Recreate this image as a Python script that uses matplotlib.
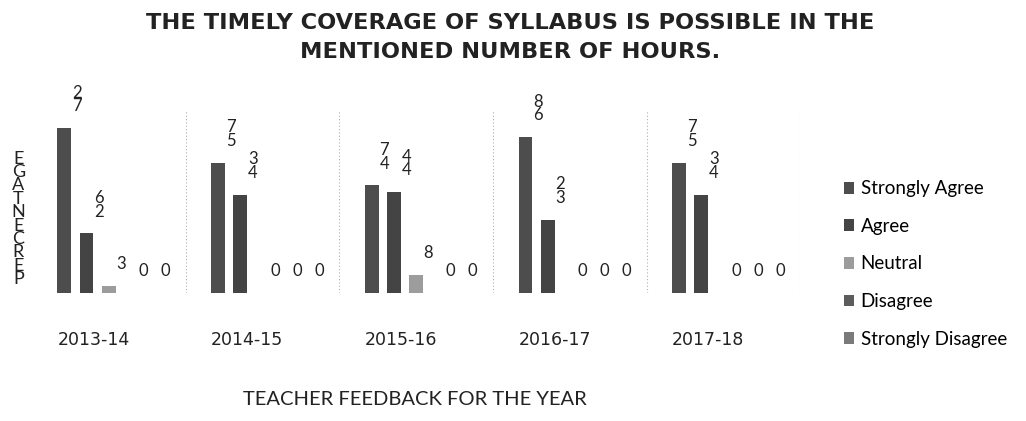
import matplotlib
matplotlib.use("Agg")
import matplotlib.pyplot as plt
import numpy as np
from matplotlib.patches import Patch
from matplotlib.transforms import ScaledTranslation

# data (percent of teachers)
years = ["2013-14", "2014-15", "2015-16", "2016-17", "2017-18"]
responses = ["Strongly Agree", "Agree", "Neutral", "Disagree", "Strongly Disagree"]
strongly_agree = [72, 57, 47, 68, 57]
agree = [26, 43, 44, 32, 43]
neutral = [3, 0, 8, 0, 0]
disagree = [0, 0, 0, 0, 0]
strongly_disagree = [0, 0, 0, 0, 0]

series = [strongly_agree, agree, neutral, disagree, strongly_disagree]
grays = ["#4d4d4d", "#444444", "#9c9c9c", "#5c5c5c", "#7a7a7a"]

fig = plt.figure(figsize=(10.26, 4.21), dpi=100)
ax = fig.add_axes([0.031, 0.304, 0.749, 0.435])

x = np.arange(len(years))
step = 0.144
width = 0.09

for j, (vals, col) in enumerate(zip(series, grays)):
    pos = x + (j - 2) * step
    ax.bar(pos, vals, width=width, color=col, edgecolor="none")
    for p, v in zip(pos, vals):
        # labels in the scan are stacked digit-by-digit, bottom-up
        txt = "\n".join(reversed(str(v)))
        ax.annotate(txt, (p, v), xytext=(9, 10), textcoords="offset points",
                    ha="center", va="bottom", fontsize=12, linespacing=0.8,
                    color="#222222", family="Lato")

# dotted separators between years
for b in np.arange(0.5, len(years), 1.0):
    ax.axvline(b, color="#b0b0b0", lw=0.8, ls=(0, (1, 2)))

ax.set_xlim(-0.5, len(years) - 0.5)
ax.set_ylim(0, 80)
ax.set_yticks([])
ax.set_xticks(x)
ax.set_xticklabels(years, fontsize=12.5, family="DejaVu Sans", color="#222222")
ax.tick_params(axis="x", length=0, pad=27)
for s in ax.spines.values():
    s.set_visible(False)

# shift the year labels a little left like in the scan
for lab in ax.get_xticklabels():
    lab.set_transform(lab.get_transform() + ScaledTranslation(-0.15, 0, fig.dpi_scale_trans))

for txt, yy in [("THE TIMELY COVERAGE OF SYLLABUS IS POSSIBLE IN THE", 0.946),
                ("MENTIONED NUMBER OF HOURS.", 0.876)]:
    fig.text(0.497, yy, txt, ha="center", va="center", fontsize=16.2,
             fontweight="bold", family="DejaVu Sans", color="#222222")

# y label stacked letter by letter, as in the scan
fig.text(0.018, 0.48, "\n".join(reversed("PERCENTAGE")), ha="center", va="center",
         fontsize=13, linespacing=0.8, family="Lato", color="#222222")

fig.text(0.404, 0.05, "TEACHER FEEDBACK FOR THE YEAR", ha="center", va="center",
         fontsize=14.5, family="Lato", color="#222222")

handles = [Patch(facecolor=c, edgecolor="none") for c in grays]
fig.legend(handles, responses, loc="upper left", bbox_to_anchor=(0.806, 0.612),
           frameon=False, handlelength=0.55, handleheight=0.6,
           handletextpad=0.35, labelspacing=1.1, prop={"family": "Lato", "size": 13.5})

fig.savefig("out.png", dpi=100)
